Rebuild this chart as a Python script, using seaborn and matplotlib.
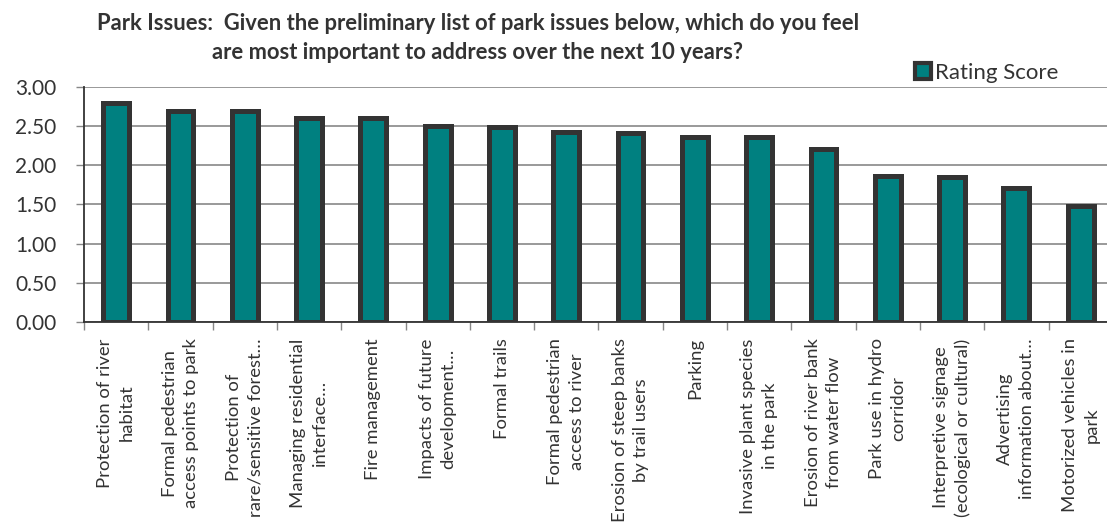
import matplotlib
matplotlib.use("Agg")
import matplotlib.pyplot as plt
from matplotlib.ticker import FixedLocator
import seaborn as sns
import pandas as pd

# Survey results: mean importance rating per park issue
issues = [
    "Protection of river\nhabitat",
    "Formal pedestrian\naccess points to park",
    "Protection of\nrare/sensitive forest…",
    "Managing residential\ninterface…",
    "Fire management",
    "Impacts of future\ndevelopment…",
    "Formal trails",
    "Formal pedestrian\naccess to river",
    "Erosion of steep banks\nby trail users",
    "Parking",
    "Invasive plant species\nin the park",
    "Erosion of river bank\nfrom water flow",
    "Park use in hydro\ncorridor",
    "Interpretive signage\n(ecological or cultural)",
    "Advertising\ninformation about…",
    "Motorized vehicles in\npark",
]
rating_score = [2.80, 2.70, 2.70, 2.61, 2.61, 2.51, 2.49, 2.43,
                2.41, 2.36, 2.36, 2.21, 1.87, 1.85, 1.71, 1.48]
y_ticks = [0.0, 0.5, 1.0, 1.5, 2.0, 2.5, 3.0]
series_name = "Rating Score"
title = ("Park Issues:  Given the preliminary list of park issues below, which do you feel\n"
         "are most important to address over the next 10 years?")

df = pd.DataFrame({"issue": issues, "score": rating_score})

sns.set_theme(style="white")
plt.rcParams["font.family"] = ["Lato", "DejaVu Sans"]
text_color = "#333333"

W, H = 1107, 529
fig = plt.figure(figsize=(W / 100, H / 100), dpi=100)
ax = fig.add_axes([84 / W, (H - 321.7) / H, 1028.8 / W, 234.4 / H])

sns.barplot(data=df, x="issue", y="score", color="#008080", saturation=1,
            width=0.40, edgecolor="#333333", linewidth=3.6,
            label=series_name, ax=ax, zorder=3)

ax.set_xlim(-0.5, len(issues) - 0.5)
ax.set_ylim(0, 3.0)
ax.set_yticks(y_ticks)
ax.set_yticklabels([f"{v:.2f}" for v in y_ticks])
ax.yaxis.grid(True, color="#878787", linewidth=1.2, zorder=0)
ax.set_axisbelow(True)

# category separators as outward ticks on the x axis
ax.tick_params(axis="x", which="major", length=0, pad=12)
ax.xaxis.set_minor_locator(FixedLocator([i - 0.5 for i in range(len(issues) + 1)]))
ax.tick_params(axis="x", which="minor", direction="out", length=6,
               width=1, color="#878787", bottom=True)
ax.tick_params(axis="y", direction="out", length=6, width=1, color="#878787",
               left=True, labelsize=15, labelcolor=text_color, pad=14)
for lab in ax.get_xticklabels():
    lab.set_rotation(90)
    lab.set_fontsize(13.3)
    lab.set_color(text_color)
    lab.set_ha("center")
    lab.set_va("top")
    lab.set_multialignment("center")
    lab.set_linespacing(1.45)

for side in ("top", "right"):
    ax.spines[side].set_visible(False)
for side in ("left", "bottom"):
    ax.spines[side].set_color("#333333")
    ax.spines[side].set_linewidth(1.3)
ax.set_xlabel("")
ax.set_ylabel("")

fig.text(478 / W, 1 - 38 / H, title, ha="center", va="center",
         fontsize=15.8, fontweight="bold", color=text_color,
         multialignment="center", linespacing=1.5)

handles, labels = ax.get_legend_handles_labels()
leg = ax.legend(handles, labels, loc="center left",
                bbox_to_anchor=(915 / W, 1 - 73 / H),
                bbox_transform=fig.transFigure, frameon=False,
                fontsize=16, handlelength=0.7, handleheight=0.7,
                handletextpad=0.2, borderaxespad=0, borderpad=0)
for t in leg.get_texts():
    t.set_color(text_color)
for h in leg.legend_handles:
    h.set_linewidth(3.0)

fig.savefig("out.png", dpi=100)
